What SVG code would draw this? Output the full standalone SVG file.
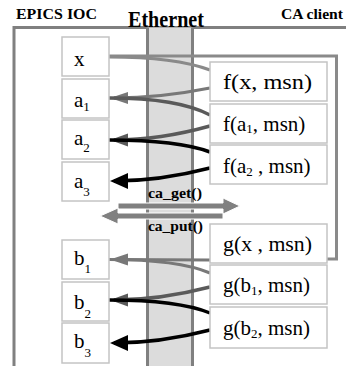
<svg xmlns="http://www.w3.org/2000/svg" width="346" height="366" viewBox="0 0 346 366">
<style>
text{font-family:'Liberation Serif','Times New Roman','DejaVu Serif',serif}
.hdr{font-weight:bold;fill:#000}
.lbl{font-size:21px;fill:#000}
.sub{font-size:13px}
.box{fill:#fff;stroke:#c4c4c4;stroke-width:1.5}
.ln{fill:none;stroke-linecap:butt}
.g1{stroke:#8a8a8a;stroke-width:3}
.g2{stroke:#787878;stroke-width:3.2}
.g3{stroke:#5a5a5a;stroke-width:3.4}
.bk{stroke:#000;stroke-width:3.5}
.caar{fill:#808080;stroke:#fff;stroke-width:1}
</style>
<defs>
<marker id="mg" markerUnits="userSpaceOnUse" markerWidth="20" markerHeight="20" viewBox="0 -10 20 20" refX="14" refY="0" orient="auto"><path d="M0,-6 L18,0 L0,6 z" fill="#787878"/></marker>
<marker id="md" markerUnits="userSpaceOnUse" markerWidth="20" markerHeight="20" viewBox="0 -10 20 20" refX="14" refY="0" orient="auto"><path d="M0,-6.5 L18,0 L0,6.5 z" fill="#5a5a5a"/></marker>
<marker id="mb" markerUnits="userSpaceOnUse" markerWidth="20" markerHeight="20" viewBox="0 -10 20 20" refX="14" refY="0" orient="auto"><path d="M0,-8 L18,0 L0,8 z" fill="#000"/></marker>
</defs>
<rect width="346" height="366" fill="#fff"/>
<g id="frame">
<rect x="14" y="27.5" width="400" height="400" fill="#fff" stroke="#808080" stroke-width="3"/>
<rect x="147.5" y="27.5" width="45" height="350" fill="#dcdcdc"/>
<line x1="147.5" y1="27.5" x2="147.5" y2="366" stroke="#808080" stroke-width="3"/>
<line x1="192.5" y1="27.5" x2="192.5" y2="366" stroke="#808080" stroke-width="3"/>
</g>
<g id="titles">
<text class="hdr" x="16" y="19" font-size="15" textLength="81" lengthAdjust="spacingAndGlyphs">EPICS IOC</text>
<text class="hdr" x="128" y="27" font-size="24" textLength="76" lengthAdjust="spacingAndGlyphs">Ethernet</text>
<text class="hdr" x="281" y="19" font-size="15" textLength="62" lengthAdjust="spacingAndGlyphs">CA client</text>
</g>
<g id="connectors">
<path class="ln g1" d="M109,56 H336.5 V259 H327"/>
<path class="ln g1" d="M109,57 Q175,57 210,70"/>
<path class="ln g2" d="M210,88 Q160,98 114,98" marker-end="url(#mg)"/>
<path class="ln g3" d="M109,98 Q178,98 210,115"/>
<path class="ln g3" d="M210,126 Q160,140 114,140" marker-end="url(#md)"/>
<path class="ln bk" d="M109,140 Q178,140 210,152"/>
<path class="ln bk" d="M210,168 Q160,181 114,181" marker-end="url(#mb)"/>
<path class="ln g2" d="M210,260 L114,259.5" marker-end="url(#mg)"/>
<path class="ln g2" d="M109,259.5 Q178,259.5 210,273"/>
<path class="ln g3" d="M210,287 Q160,300 114,300" marker-end="url(#md)"/>
<path class="ln bk" d="M109,300 Q178,300 210,313"/>
<path class="ln bk" d="M210,330 Q160,343 114,343" marker-end="url(#mb)"/>
</g>
<g id="ca_get">
<path class="caar" d="M118,203 H223 V198 L240,206 L223,214 V209 H118 z"/>
<text class="hdr" x="148" y="198" font-size="14" textLength="54" lengthAdjust="spacingAndGlyphs">ca_get()</text>
</g>
<g id="ca_put">
<path class="caar" d="M223,213 H118 V208 L100,216 L118,224 V219 H223 z"/>
<text class="hdr" x="148" y="231" font-size="14" textLength="55" lengthAdjust="spacingAndGlyphs">ca_put()</text>
</g>
<g id="x"><rect class="box" x="62" y="37" width="47" height="39"/><text class="lbl" x="74" y="66">x</text></g>
<g id="a1"><rect class="box" x="62" y="79" width="47" height="39"/><text class="lbl" x="74" y="107">a<tspan class="sub" dy="4">1</tspan></text></g>
<g id="a2"><rect class="box" x="62" y="120" width="47" height="39"/><text class="lbl" x="74" y="145">a<tspan class="sub" dy="7">2</tspan></text></g>
<g id="a3"><rect class="box" x="62" y="162" width="47" height="39"/><text class="lbl" x="74" y="188">a<tspan class="sub" dy="8">3</tspan></text></g>
<g id="b1"><rect class="box" x="62" y="240" width="47" height="39"/><text class="lbl" x="74" y="265">b<tspan class="sub" dy="8">1</tspan></text></g>
<g id="b2"><rect class="box" x="62" y="282" width="47" height="39"/><text class="lbl" x="74" y="309">b<tspan class="sub" dy="9">2</tspan></text></g>
<g id="b3"><rect class="box" x="62" y="323" width="47" height="40"/><text class="lbl" x="74" y="348">b<tspan class="sub" dy="9">3</tspan></text></g>
<g id="fx"><rect class="box" x="210" y="62" width="117" height="39"/><text class="lbl" x="223" y="89" font-size="22" textLength="89" lengthAdjust="spacingAndGlyphs">f(x, msn)</text></g>
<g id="fa1"><rect class="box" x="210" y="104" width="117" height="39"/><text class="lbl" x="223" y="131" font-size="22">f(a<tspan class="sub" dy="2">1</tspan><tspan dy="-2">, msn)</tspan></text></g>
<g id="fa2"><rect class="box" x="210" y="145" width="117" height="39"/><text class="lbl" x="223" y="173" font-size="22">f(a<tspan class="sub" dy="3">2</tspan><tspan dy="-3"> , msn)</tspan></text></g>
<g id="gx"><rect class="box" x="210" y="224" width="117" height="39"/><text class="lbl" x="223" y="251" font-size="22" textLength="89" lengthAdjust="spacingAndGlyphs">g(x , msn)</text></g>
<g id="gb1"><rect class="box" x="210" y="265" width="117" height="39"/><text class="lbl" x="223" y="292" font-size="22">g(b<tspan class="sub" dy="3">1</tspan><tspan dy="-3">, msn)</tspan></text></g>
<g id="gb2"><rect class="box" x="210" y="307" width="117" height="41"/><text class="lbl" x="223" y="335" font-size="22">g(b<tspan class="sub" dy="3">2</tspan><tspan dy="-3">, msn)</tspan></text></g>
</svg>
